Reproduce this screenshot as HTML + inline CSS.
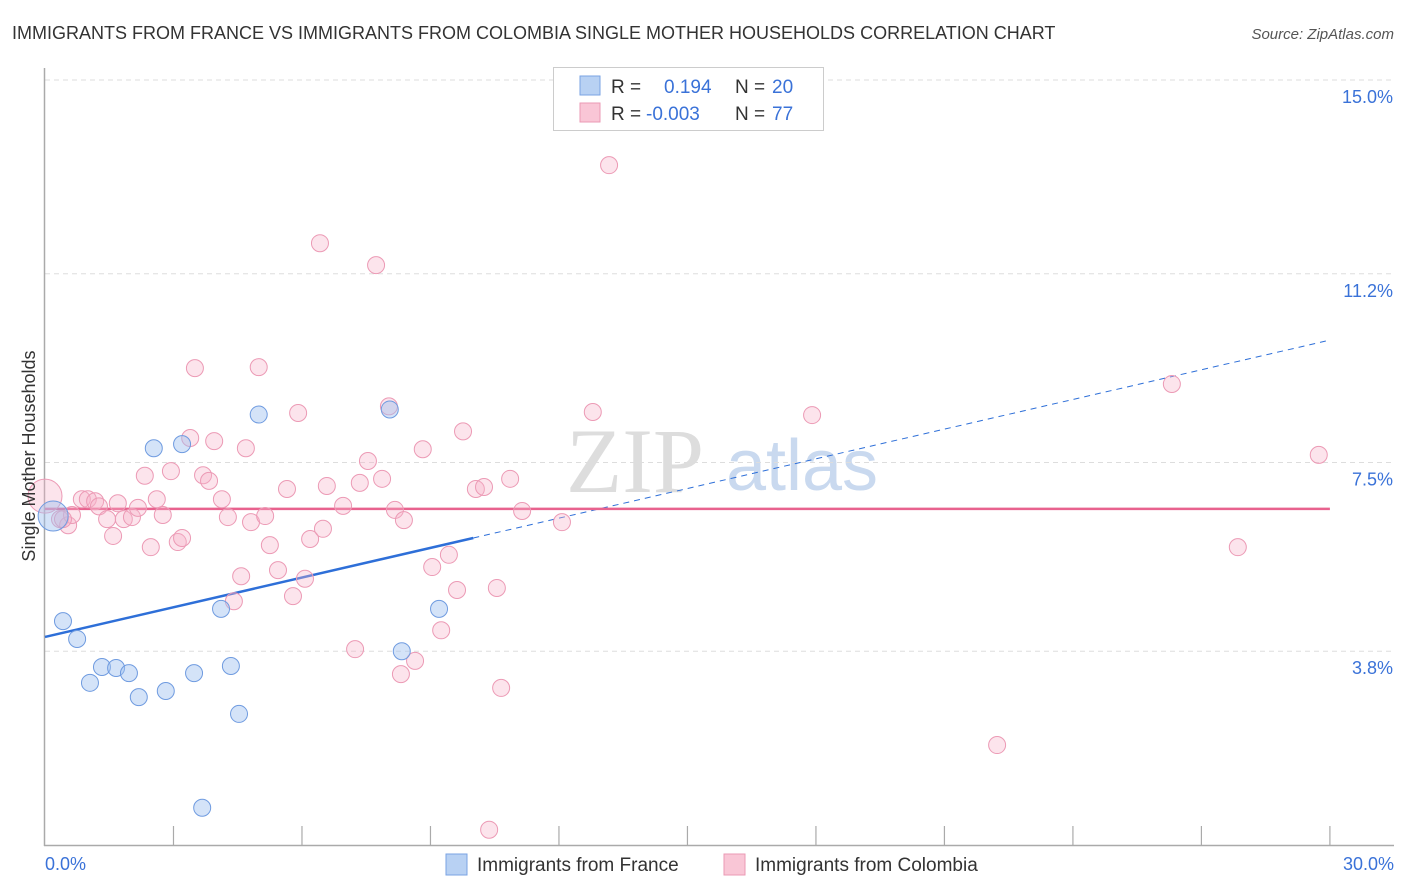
<!DOCTYPE html>
<html><head><meta charset="utf-8"><style>
body{margin:0;background:#fff;font-family:"Liberation Sans",sans-serif}
svg{display:block}
</style></head><body>
<svg id="chart" width="1406" height="892" xmlns="http://www.w3.org/2000/svg">
<text x="12" y="39" font-size="18" fill="#333">IMMIGRANTS FROM FRANCE VS IMMIGRANTS FROM COLOMBIA SINGLE MOTHER HOUSEHOLDS CORRELATION CHART</text>
<text x="1394" y="39" font-size="15" fill="#555" font-style="italic" text-anchor="end">Source: ZipAtlas.com</text>
<g>
<text x="635" y="492" font-size="92" fill="#ddd" font-family="Liberation Serif,serif" text-anchor="middle">ZIP</text>
<text x="802" y="490" font-size="72" fill="#c9d9ef" text-anchor="middle">atlas</text>
</g>
<g id="grid"></g>
<g id="axes"></g>
<g id="lines"></g>
<g id="pts"></g>
<text transform="translate(35,456) rotate(-90)" font-size="18" fill="#333" text-anchor="middle">Single Mother Households</text>
<g>
<rect x="553.500" y="67.500" width="270" height="63" fill="#fff" stroke="#ccc"/>
<rect x="580" y="76" width="20" height="19" fill="#b8d1f3" stroke="#7aa3e3"/>
<rect x="580" y="103" width="20" height="19" fill="#f9c6d6" stroke="#eb9ab4"/>
<text x="611" y="93" font-size="19" fill="#333">R = </text><text x="664" y="93" font-size="19" fill="#3a72d8">0.194</text>
<text x="735" y="93" font-size="19" fill="#333">N = </text><text x="772" y="93" font-size="19" fill="#3a72d8">20</text>
<text x="611" y="120" font-size="19" fill="#333">R = </text><text x="646" y="120" font-size="19" fill="#3a72d8">-0.003</text>
<text x="735" y="120" font-size="19" fill="#333">N = </text><text x="772" y="120" font-size="19" fill="#3a72d8">77</text>
</g>
<g>
<rect x="446" y="854" width="21" height="21" fill="#b8d1f3" stroke="#7aa3e3"/>
<text x="477" y="871" font-size="19" fill="#333">Immigrants from France</text>
<rect x="724" y="854" width="21" height="21" fill="#f9c6d6" stroke="#eb9ab4"/>
<text x="755" y="871" font-size="19" fill="#333">Immigrants from Colombia</text>
</g>
</svg>
<script>
const yTicks=[15.0,11.2,7.5,3.8];
const yTickLabels=["15.0%","11.2%","7.5%","3.8%"];
const xTickLabels=["0.0%","30.0%"];
const franceX=[0.19,0.42,0.75,1.05,1.33,1.66,1.96,2.19,2.54,2.82,3.2,3.48,4.11,4.34,4.53,3.67,4.99,8.05,8.33,9.2];
const franceY=[6.45,4.39,4.04,3.18,3.49,3.47,3.37,2.9,7.78,3.02,7.86,3.37,4.63,3.51,2.57,0.73,8.44,8.54,3.8,4.63];
const colX=[0.0,0.35,0.54,0.63,0.86,1.0,1.17,1.26,1.45,1.59,1.84,2.03,2.17,2.33,2.47,2.61,2.75,2.94,3.1,3.2,3.39,3.5,3.69,3.83,3.95,4.13,4.27,4.58,4.41,4.69,4.81,4.99,5.14,5.25,5.44,5.65,5.79,5.91,6.07,6.19,6.42,6.49,6.58,6.96,7.24,7.35,7.54,7.73,7.87,8.03,8.17,8.31,8.38,8.64,8.82,9.04,9.25,9.43,9.62,9.76,10.06,10.25,10.55,10.65,10.86,11.14,10.37,12.07,12.79,13.17,17.91,22.23,26.31,27.85,29.74,0.42,1.7];
const colY=[6.84,6.39,6.27,6.47,6.78,6.78,6.74,6.64,6.39,6.06,6.39,6.43,6.61,7.24,5.84,6.78,6.47,7.33,5.94,6.02,7.98,9.35,7.25,7.14,7.92,6.78,6.43,5.27,4.78,7.78,6.33,9.37,6.45,5.88,5.39,6.98,4.88,8.47,5.22,6.0,11.8,6.2,7.04,6.65,3.84,7.1,7.53,11.37,7.18,8.6,6.57,3.35,6.37,3.61,7.76,5.45,4.21,5.69,5.0,8.11,6.98,7.02,5.04,3.08,7.18,6.55,0.3,6.33,8.49,13.33,8.43,1.96,9.04,5.84,7.65,6.39,6.7];
const franceTrend=[4.08,0.194]; // [intercept %, slope per x%]
const colTrend=[6.59,0.0];

const X0=45,XS=42.83,Y0=80,YS=51.0;
const xs=v=>X0+v*XS, ys=v=>Y0+(15-v)*YS;
const NS="http://www.w3.org/2000/svg";
function mk(parent,tag,attrs){const e=document.createElementNS(NS,tag);for(const k in attrs)e.setAttribute(k,attrs[k]);document.getElementById(parent).appendChild(e);return e;}

yTicks.forEach((t,i)=>{
  const l=mk('grid','line',{x1:45,x2:1394,y1:ys(t),y2:ys(t),stroke:'#ddd','stroke-dasharray':'5,4'});
  
  
  const tx=mk('grid','text',{x:1393,y:ys(t)+23,'font-size':18,fill:'#3a72d8','text-anchor':'end'});
  tx.textContent=yTickLabels[i];
  
  
});
const ya=mk('axes','line',{x1:44.5,x2:44.5,y1:68,y2:846,stroke:'#aaa','stroke-width':1.5});


const xa=mk('axes','line',{x1:44,x2:1394,y1:845.5,y2:845.5,stroke:'#aaa','stroke-width':1.5});


for(let i=1;i<=10;i++){
  const tk=mk('axes','line',{x1:xs(i*3),x2:xs(i*3),y1:826,y2:845,stroke:'#aaa','stroke-width':1.2});
  
  
}
const xl0=mk('axes','text',{x:45,y:870,'font-size':18,fill:'#3a72d8'});xl0.textContent=xTickLabels[0];


const xl1=mk('axes','text',{x:1394,y:870,'font-size':18,fill:'#3a72d8','text-anchor':'end'});xl1.textContent=xTickLabels[1];



colX.forEach((x,i)=>{
  const big=i===0;
  const c=mk('pts','circle',{cx:xs(x),cy:ys(colY[i]),r:big?17:8.5,fill:'rgba(246,178,200,0.35)',stroke:'#ec9ab5','stroke-width':1});
  
  
});
franceX.forEach((x,i)=>{
  const big=i===0;
  const c=mk('pts','circle',{cx:xs(x),cy:ys(franceY[i]),r:big?15:8.5,fill:'rgba(160,193,240,0.45)',stroke:'#6f9be0','stroke-width':1});
  
  
});
const f=x=>franceTrend[0]+franceTrend[1]*x;
const bl=mk('lines','line',{x1:xs(0),y1:ys(f(0)),x2:xs(10),y2:ys(f(10)),stroke:'#2e6fd8','stroke-width':2.5});


const bd=mk('lines','line',{x1:xs(10),y1:ys(f(10)),x2:xs(30),y2:ys(f(30)),stroke:'#2e6fd8','stroke-width':1,'stroke-dasharray':'6,5'});


const pl=mk('lines','line',{x1:xs(0),y1:ys(colTrend[0]),x2:xs(30),y2:ys(colTrend[0]+colTrend[1]*30),stroke:'#e8628e','stroke-width':2.5});


</script>
</body></html>
